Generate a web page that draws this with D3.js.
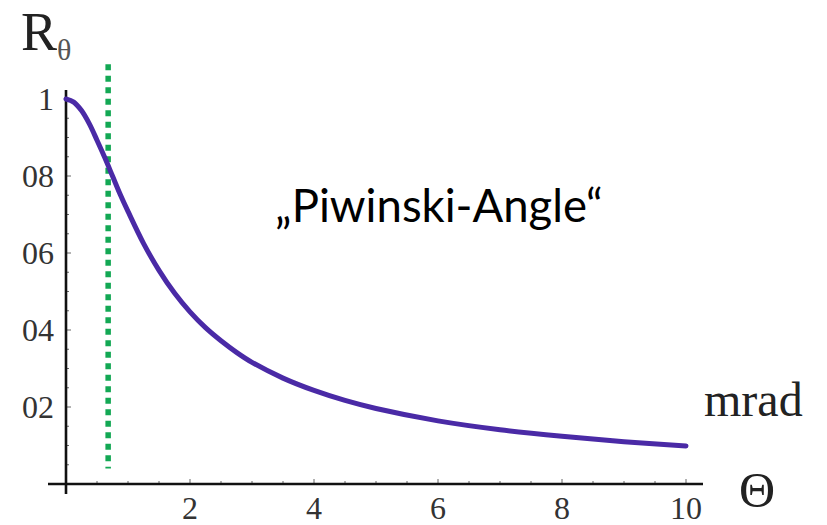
<!DOCTYPE html>
<html>
<head>
<meta charset="utf-8">
<script src="https://cdn.jsdelivr.net/npm/d3@7"></script>
<style>
  html, body { margin: 0; padding: 0; background: #fff; }
  svg { display: block; }
</style>
</head>
<body>
<svg id="chart" width="827" height="525"></svg>
<script>
// Luminosity reduction factor R_θ versus crossing angle Θ (mrad)
const theta = [0, 0.125, 0.25, 0.375, 0.5, 0.625, 0.75, 0.875, 1, 1.25, 1.5, 1.75, 2, 2.25, 2.5, 2.75, 3, 3.5, 4, 4.5, 5, 6, 7, 8, 9, 10];
const reduction = [1, 0.992, 0.97, 0.936, 0.893, 0.848, 0.80, 0.752, 0.708, 0.625, 0.555, 0.496, 0.447, 0.406, 0.372, 0.342, 0.316, 0.275, 0.243, 0.217, 0.196, 0.164, 0.141, 0.124, 0.11, 0.099];

const xTicks = [2, 4, 6, 8, 10];
const xTickLabels = ["2", "4", "6", "8", "10"];
const yTicks = [0.2, 0.4, 0.6, 0.8, 1];
const yTickLabels = ["02", "04", "06", "08", "1"];

// Piwinski angle marker
const piwinskiAngle = [0.68];
const markerRange = [0.04, 1.09];

const svg = d3.select("#chart");

const x = d3.scaleLinear().domain([0, 10]).range([66, 686]);
const y = d3.scaleLinear().domain([0, 1]).range([484, 99]);

const serif = "'Liberation Serif', 'Times New Roman', serif";

// minor ticks
const xMinor = d3.range(0.5, 10.01, 0.5).filter(v => Math.abs(v % 2) > 1e-6);
const yMinor = d3.range(0.05, 1.001, 0.05).filter(v => Math.abs((v * 5) - Math.round(v * 5)) > 1e-6);

const ticksG = svg.append("g").attr("stroke", "#666").attr("stroke-width", 1);
ticksG.selectAll(".xminor").data(xMinor).join("line")
  .attr("x1", d => x(d)).attr("x2", d => x(d))
  .attr("y1", y(0)).attr("y2", y(0) - 3);
ticksG.selectAll(".xmajor").data(xTicks).join("line")
  .attr("x1", d => x(d)).attr("x2", d => x(d))
  .attr("y1", y(0)).attr("y2", y(0) - 5);
ticksG.selectAll(".yminor").data(yMinor).join("line")
  .attr("x1", x(0)).attr("x2", x(0) + 3)
  .attr("y1", d => y(d)).attr("y2", d => y(d));
ticksG.selectAll(".ymajor").data(yTicks).join("line")
  .attr("x1", x(0)).attr("x2", x(0) + 5)
  .attr("y1", d => y(d)).attr("y2", d => y(d));

// axis lines
svg.append("line")
  .attr("x1", 48).attr("x2", 703)
  .attr("y1", y(0)).attr("y2", y(0))
  .attr("stroke", "#111").attr("stroke-width", 2.6);
svg.append("line")
  .attr("x1", x(0)).attr("x2", x(0))
  .attr("y1", 90).attr("y2", 494)
  .attr("stroke", "#111").attr("stroke-width", 2.6);

// tick labels
svg.append("g").selectAll("text").data(xTicks).join("text")
  .attr("x", d => x(d)).attr("y", 519)
  .attr("text-anchor", "middle")
  .attr("font-family", serif).attr("font-size", 32).attr("fill", "#333")
  .text((d, i) => xTickLabels[i]);
svg.append("g").selectAll("text").data(yTicks).join("text")
  .attr("x", 54).attr("y", d => y(d))
  .attr("dy", "0.34em")
  .attr("text-anchor", "end")
  .attr("font-family", serif).attr("font-size", 32).attr("fill", "#333")
  .text((d, i) => yTickLabels[i]);

// dotted vertical marker
svg.append("line")
  .datum(piwinskiAngle[0])
  .attr("x1", d => x(d)).attr("x2", d => x(d))
  .attr("y1", y(markerRange[1])).attr("y2", y(markerRange[0]))
  .attr("stroke", "#13a854").attr("stroke-width", 5.5)
  .attr("stroke-dasharray", "6,5.5");

// reduction curve
const line = d3.line()
  .x((d, i) => x(theta[i]))
  .y(d => y(d))
  .curve(d3.curveCatmullRom.alpha(0.5));
svg.append("path")
  .datum(reduction)
  .attr("d", line)
  .attr("fill", "none")
  .attr("stroke", "#4a2aa6")
  .attr("stroke-width", 5)
  .attr("stroke-linecap", "round");

// axis titles
const yTitle = svg.append("text")
  .attr("x", 21).attr("y", 50)
  .attr("font-family", serif).attr("font-size", 54).attr("fill", "#222");
yTitle.append("tspan").text("R");
yTitle.append("tspan").attr("font-size", 30).attr("dy", 10).attr("fill", "#555").text("θ");

svg.append("text")
  .attr("x", 704).attr("y", 416)
  .attr("font-family", serif).attr("font-size", 48).attr("fill", "#222")
  .text("mrad");

svg.append("text")
  .attr("x", 739).attr("y", 507)
  .attr("font-family", serif).attr("font-size", 50).attr("fill", "#222")
  .text("Θ");

// annotation
svg.append("text")
  .attr("x", 275).attr("y", 222)
  .attr("font-family", "Lato, 'Open Sans', sans-serif").attr("font-size", 45.5).attr("fill", "#000")
  .text("\u201EPiwinski-Angle\u201C");
</script>
</body>
</html>
